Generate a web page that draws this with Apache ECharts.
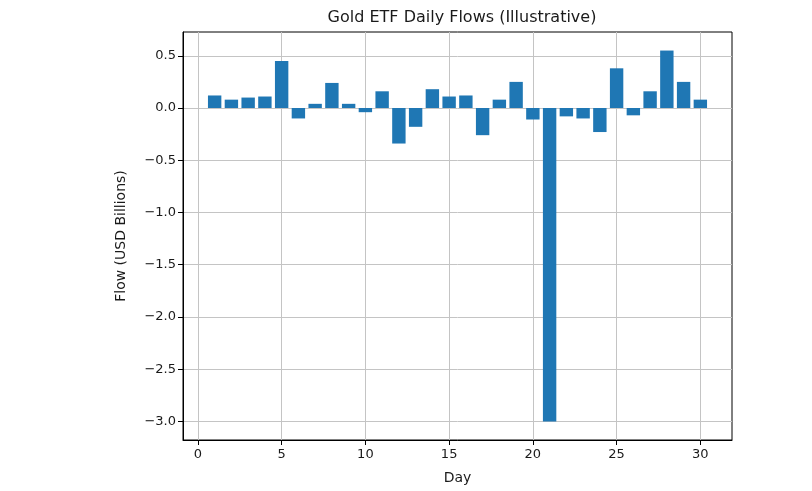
<!DOCTYPE html>
<html><head><meta charset="utf-8">
<script src="https://cdn.jsdelivr.net/npm/echarts@6/dist/echarts.min.js"></script>
<style>html,body{margin:0;padding:0;background:#fff}#c{width:812px;height:491px}</style>
</head><body><div id="c"></div>
<script>
const days = [1,2,3,4,5,6,7,8,9,10,11,12,13,14,15,16,17,18,19,20,21,22,23,24,25,26,27,28,29,30];
const flows = [0.12,0.08,0.10,0.11,0.45,-0.10,0.04,0.24,0.04,-0.04,0.16,-0.34,-0.18,0.18,0.11,0.12,-0.26,0.08,0.25,-0.11,-3.00,-0.08,-0.10,-0.23,0.38,-0.07,0.16,0.55,0.25,0.08];
const xTicks = [0,5,10,15,20,25,30];
const yTicks = [-3.0,-2.5,-2.0,-1.5,-1.0,-0.5,0.0,0.5];
const titleText = 'Gold ETF Daily Flows (Illustrative)';
const xName = 'Day';
const yName = 'Flow (USD Billions)';

const FONT = 'DejaVu Sans';
const chart = echarts.init(document.getElementById('c'), null, {renderer:'canvas'});
const fmtY = v => v.toFixed(1).replace('-', '\u2212');
chart.setOption({
  animation:false,
  textStyle:{fontFamily:FONT},
  title:{text:titleText,left:457,textAlign:'center',top:5,textStyle:{fontFamily:FONT,fontSize:16,fontWeight:'normal',color:'#1a1a1a'}},
  grid:{left:183,right:80,top:32,bottom:51,show:true,borderColor:'#000',borderWidth:1,backgroundColor:'transparent'},
  xAxis:{type:'value',min:-0.89,max:31.89,
    name:xName,nameLocation:'middle',nameGap:31,nameTextStyle:{fontFamily:FONT,fontSize:14,color:'#1a1a1a'},
    axisLine:{show:true,onZero:false,lineStyle:{color:'#000',width:1}},
    axisTick:{show:true,customValues:xTicks,length:5,lineStyle:{color:'#000'}},
    axisLabel:{customValues:xTicks,fontFamily:FONT,fontSize:13,color:'#1a1a1a',margin:8},
    splitLine:{show:true,lineStyle:{color:'#c4c4c4',width:1}}
  },
  yAxis:{type:'value',min:-3.1775,max:0.7275,
    name:yName,nameLocation:'middle',nameGap:55,nameRotate:90,nameTextStyle:{fontFamily:FONT,fontSize:14,color:'#1a1a1a'},
    axisLine:{show:true,onZero:false,lineStyle:{color:'#000',width:1}},
    axisTick:{show:true,customValues:yTicks,length:5,lineStyle:{color:'#000'}},
    axisLabel:{customValues:yTicks,formatter:fmtY,fontFamily:FONT,fontSize:13,color:'#1a1a1a',margin:7},
    splitLine:{show:true,lineStyle:{color:'#c4c4c4',width:1}}
  },
  series:[{type:'bar',data:days.map((d,i)=>[d,flows[i]]),barWidth:13.4,itemStyle:{color:'#1f77b4'}}]
});
</script></body></html>
